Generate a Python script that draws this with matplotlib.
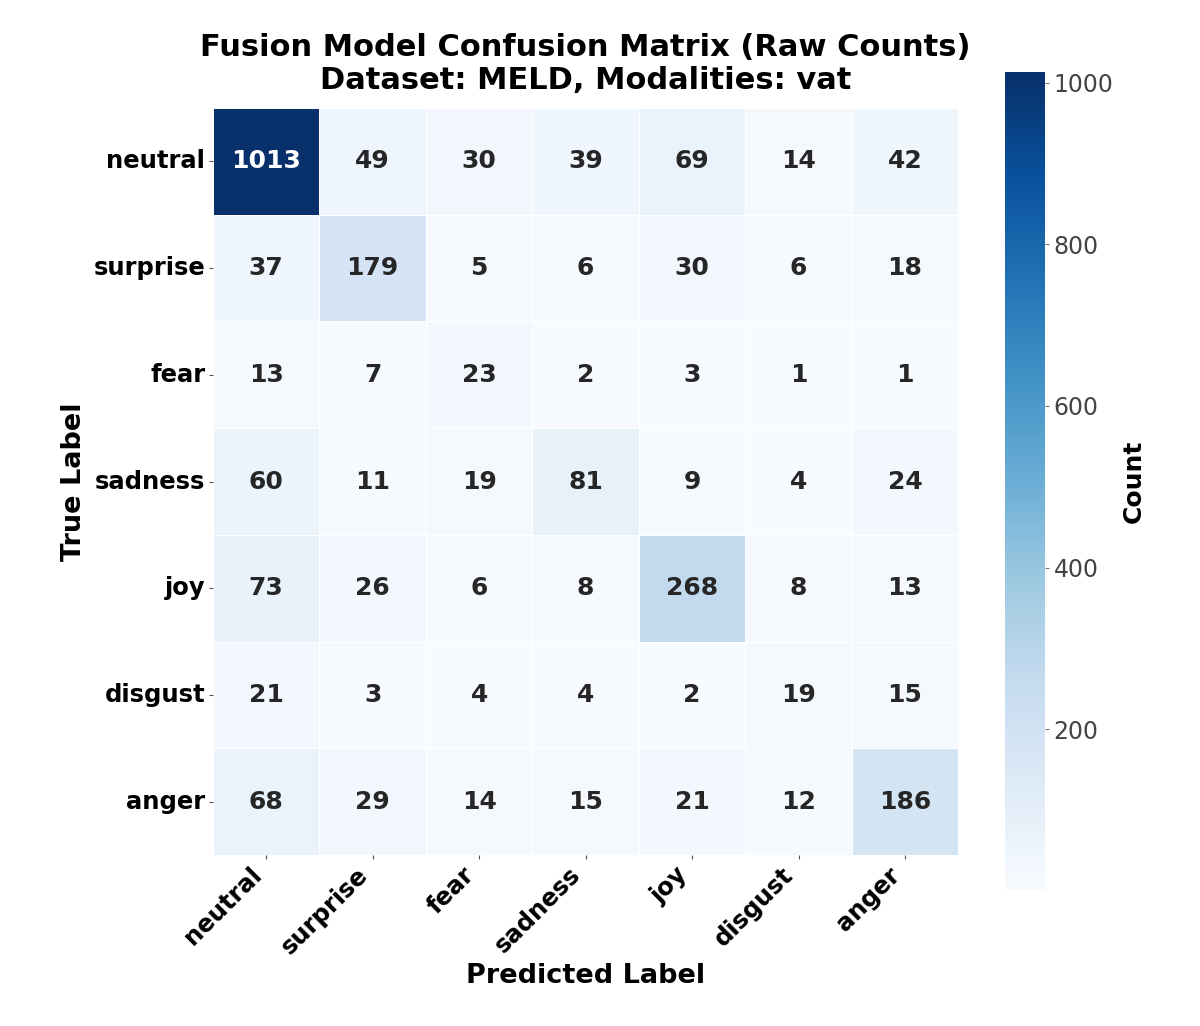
import numpy as np
import matplotlib
matplotlib.use("Agg")
import matplotlib.pyplot as plt
import seaborn as sns

labels = ["neutral", "surprise", "fear", "sadness", "joy", "disgust", "anger"]
counts = np.array([
    [1013, 49, 30, 39, 69, 14, 42],
    [37, 179, 5, 6, 30, 6, 18],
    [13, 7, 23, 2, 3, 1, 1],
    [60, 11, 19, 81, 9, 4, 24],
    [73, 26, 6, 8, 268, 8, 13],
    [21, 3, 4, 4, 2, 19, 15],
    [68, 29, 14, 15, 21, 12, 186],
])

fig = plt.figure(figsize=(12, 10.26), dpi=100)
ax = fig.add_axes([0.1775, 0.1667, 0.621, 0.728])
cax = fig.add_axes([0.8375, 0.1326, 0.033, 0.797])

sns.heatmap(counts, annot=True, fmt="d", cmap="Blues", ax=ax, cbar_ax=cax,
            xticklabels=labels, yticklabels=labels, linewidths=0.5, linecolor="white",
            annot_kws={"size": 18, "weight": "bold"},
            cbar_kws={"label": "Count"})

ax.set_title("Fusion Model Confusion Matrix (Raw Counts)\nDataset: MELD, Modalities: vat",
             fontsize=22, fontweight="bold", pad=14, linespacing=1.15)
ax.set_xlabel("Predicted Label", fontsize=19.5, fontweight="bold", labelpad=3.5)
ax.set_ylabel("True Label", fontsize=19.5, fontweight="bold", labelpad=5)
ax.tick_params(axis="both", labelsize=17.5, length=3, pad=2.5, color="#555555")
plt.setp(ax.get_xticklabels(), rotation=45, ha="right", fontweight="bold")
plt.setp(ax.get_yticklabels(), rotation=0, fontweight="bold")

cax.tick_params(labelsize=17, labelcolor="#444444", color="#777777", length=3)
cax.set_ylabel("Count", fontsize=18, fontweight="bold", labelpad=6)
for sp in cax.spines.values():
    sp.set_visible(False)

fig.savefig("out.png", dpi=100)
